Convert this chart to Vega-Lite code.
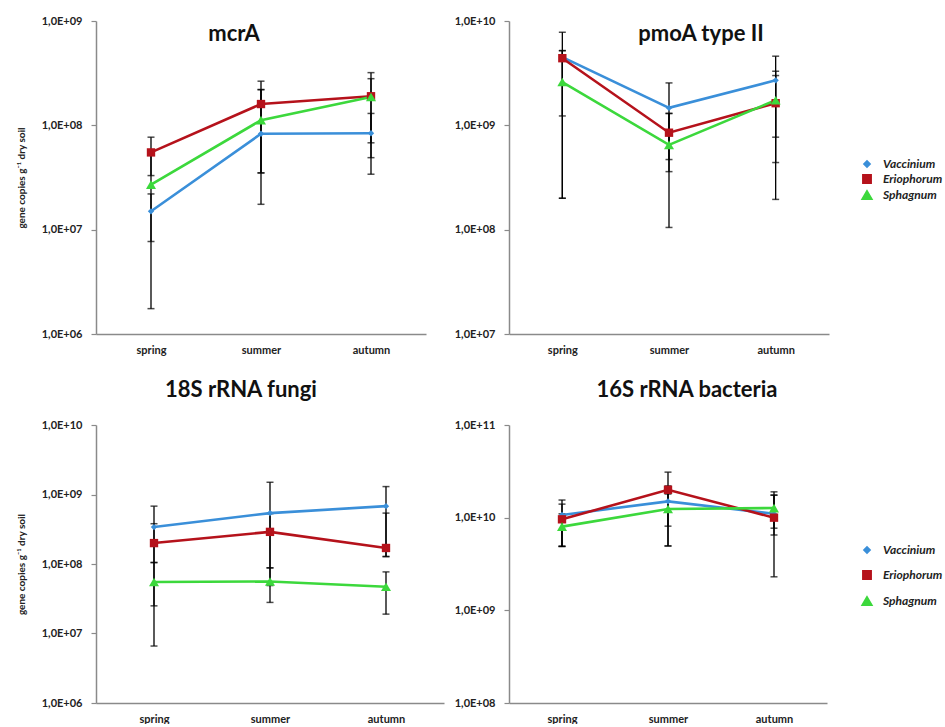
{
  "$schema": "https://vega.github.io/schema/vega-lite/v6.json",
  "padding": {"left": 16, "top": 15, "right": 0, "bottom": 0},
  "background": "white",
  "datasets": {
    "d": [
      {"gene": "mcrA", "season": "spring", "species": "Vaccinium", "value": 1.5e7, "lo": 7.7e6, "hi": 2.2e7},
      {"gene": "mcrA", "season": "spring", "species": "Eriophorum", "value": 5.5e7, "lo": 3.3e7, "hi": 7.7e7},
      {"gene": "mcrA", "season": "spring", "species": "Sphagnum", "value": 2.7e7, "lo": 1.75e6, "hi": 5.2e7},
      {"gene": "mcrA", "season": "summer", "species": "Vaccinium", "value": 8.3e7, "lo": 3.5e7, "hi": 2.2e8},
      {"gene": "mcrA", "season": "summer", "species": "Eriophorum", "value": 1.6e8, "lo": 1.75e7, "hi": 2.65e8},
      {"gene": "mcrA", "season": "summer", "species": "Sphagnum", "value": 1.12e8, "lo": 3.5e7, "hi": 2.2e8},
      {"gene": "mcrA", "season": "autumn", "species": "Vaccinium", "value": 8.4e7, "lo": 3.4e7, "hi": 1.3e8},
      {"gene": "mcrA", "season": "autumn", "species": "Eriophorum", "value": 1.9e8, "lo": 6.8e7, "hi": 3.2e8},
      {"gene": "mcrA", "season": "autumn", "species": "Sphagnum", "value": 1.87e8, "lo": 4.9e7, "hi": 2.8e8},
      {"gene": "pmoA", "season": "spring", "species": "Vaccinium", "value": 4.5e9, "lo": 1.23e9, "hi": 7.8e9},
      {"gene": "pmoA", "season": "spring", "species": "Eriophorum", "value": 4.4e9, "lo": 2.0e8, "hi": 5.2e9},
      {"gene": "pmoA", "season": "spring", "species": "Sphagnum", "value": 2.6e9, "lo": 2.0e8, "hi": 5.2e9},
      {"gene": "pmoA", "season": "summer", "species": "Vaccinium", "value": 1.47e9, "lo": 3.6e8, "hi": 2.55e9},
      {"gene": "pmoA", "season": "summer", "species": "Eriophorum", "value": 8.5e8, "lo": 1.05e8, "hi": 1.3e9},
      {"gene": "pmoA", "season": "summer", "species": "Sphagnum", "value": 6.5e8, "lo": 4.7e8, "hi": 1.3e9},
      {"gene": "pmoA", "season": "autumn", "species": "Vaccinium", "value": 2.7e9, "lo": 7.7e8, "hi": 4.6e9},
      {"gene": "pmoA", "season": "autumn", "species": "Eriophorum", "value": 1.63e9, "lo": 1.95e8, "hi": 3.0e9},
      {"gene": "pmoA", "season": "autumn", "species": "Sphagnum", "value": 1.74e9, "lo": 4.4e8, "hi": 3.3e9},
      {"gene": "fungi", "season": "spring", "species": "Vaccinium", "value": 3.4e8, "lo": 1.05e8, "hi": 6.8e8},
      {"gene": "fungi", "season": "spring", "species": "Eriophorum", "value": 2.0e8, "lo": 2.5e7, "hi": 3.8e8},
      {"gene": "fungi", "season": "spring", "species": "Sphagnum", "value": 5.5e7, "lo": 6.6e6, "hi": 1.05e8},
      {"gene": "fungi", "season": "summer", "species": "Vaccinium", "value": 5.4e8, "lo": 8.8e7, "hi": 1.5e9},
      {"gene": "fungi", "season": "summer", "species": "Eriophorum", "value": 2.9e8, "lo": 4.9e7, "hi": 5.3e8},
      {"gene": "fungi", "season": "summer", "species": "Sphagnum", "value": 5.6e7, "lo": 2.8e7, "hi": 8.8e7},
      {"gene": "fungi", "season": "autumn", "species": "Vaccinium", "value": 6.8e8, "lo": 1.28e8, "hi": 1.3e9},
      {"gene": "fungi", "season": "autumn", "species": "Eriophorum", "value": 1.7e8, "lo": 1.28e8, "hi": 5.4e8},
      {"gene": "fungi", "season": "autumn", "species": "Sphagnum", "value": 4.7e7, "lo": 1.9e7, "hi": 7.7e7},
      {"gene": "bacteria", "season": "spring", "species": "Vaccinium", "value": 1.07e10, "lo": 4.9e9, "hi": 1.55e10},
      {"gene": "bacteria", "season": "spring", "species": "Eriophorum", "value": 9.6e9, "lo": 4.9e9, "hi": 1.4e10},
      {"gene": "bacteria", "season": "spring", "species": "Sphagnum", "value": 8.0e9, "lo": 4.9e9, "hi": 1.1e10},
      {"gene": "bacteria", "season": "summer", "species": "Vaccinium", "value": 1.5e10, "lo": 4.95e9, "hi": 2.2e10},
      {"gene": "bacteria", "season": "summer", "species": "Eriophorum", "value": 2.0e10, "lo": 8.1e9, "hi": 3.1e10},
      {"gene": "bacteria", "season": "summer", "species": "Sphagnum", "value": 1.24e10, "lo": 4.95e9, "hi": 1.8e10},
      {"gene": "bacteria", "season": "autumn", "species": "Vaccinium", "value": 1.1e10, "lo": 6.5e9, "hi": 1.75e10},
      {"gene": "bacteria", "season": "autumn", "species": "Eriophorum", "value": 1.0e10, "lo": 2.3e9, "hi": 1.9e10},
      {"gene": "bacteria", "season": "autumn", "species": "Sphagnum", "value": 1.27e10, "lo": 7.7e9, "hi": 1.75e10}
    ]
  },
  "vconcat": [
    {
      "hconcat": [
        {
          "width": 330, "height": 313,
          "data": {"name": "d"},
          "transform": [{"filter": "datum.gene === 'mcrA'"}],
          "title": {"text": "mcrA", "offset": -48, "dx": -27, "frame": "group", "baseline": "alphabetic"},
          "layer": [
            {"mark": {"type": "rule", "color": "black", "strokeWidth": 1.3},
             "encoding": {
               "x": {"field": "season", "type": "nominal", "sort": ["spring", "summer", "autumn"], "scale": {"type": "point", "padding": 0.5}, "axis": {"title": null, "labelAngle": 0, "ticks": false, "labelPadding": 10}},
               "y": {"field": "lo", "type": "quantitative", "scale": {"type": "log", "domain": [1e6, 1e9], "nice": false}, "axis": {"values": [1e6, 1e7, 1e8, 1e9], "labelExpr": "'1,0E+' + (round(log(datum.value)/LN10) < 10 ? '0' : '') + round(log(datum.value)/LN10)", "title": "gene copies g⁻¹ dry soil", "minExtent": 50, "maxExtent": 50, "titlePadding": 20}},
               "y2": {"field": "hi"}}},
            {"mark": {"type": "tick", "color": "black", "thickness": 1.5, "size": 7},
             "encoding": {
               "x": {"field": "season", "type": "nominal", "sort": ["spring", "summer", "autumn"], "scale": {"type": "point", "padding": 0.5}, "axis": {"title": null, "labelAngle": 0, "ticks": false, "labelPadding": 10}},
               "y": {"field": "lo", "type": "quantitative", "scale": {"type": "log", "domain": [1e6, 1e9], "nice": false}, "axis": {"values": [1e6, 1e7, 1e8, 1e9], "labelExpr": "'1,0E+' + (round(log(datum.value)/LN10) < 10 ? '0' : '') + round(log(datum.value)/LN10)", "title": "gene copies g⁻¹ dry soil", "minExtent": 50, "maxExtent": 50, "titlePadding": 20}}}},
            {"mark": {"type": "tick", "color": "black", "thickness": 1.5, "size": 7},
             "encoding": {
               "x": {"field": "season", "type": "nominal", "sort": ["spring", "summer", "autumn"], "scale": {"type": "point", "padding": 0.5}, "axis": {"title": null, "labelAngle": 0, "ticks": false, "labelPadding": 10}},
               "y": {"field": "hi", "type": "quantitative", "scale": {"type": "log", "domain": [1e6, 1e9], "nice": false}, "axis": {"values": [1e6, 1e7, 1e8, 1e9], "labelExpr": "'1,0E+' + (round(log(datum.value)/LN10) < 10 ? '0' : '') + round(log(datum.value)/LN10)", "title": "gene copies g⁻¹ dry soil", "minExtent": 50, "maxExtent": 50, "titlePadding": 20}}}},
            {"mark": {"type": "line", "strokeWidth": 2.6},
             "encoding": {
               "x": {"field": "season", "type": "nominal", "sort": ["spring", "summer", "autumn"], "scale": {"type": "point", "padding": 0.5}, "axis": {"title": null, "labelAngle": 0, "ticks": false, "labelPadding": 10}},
               "y": {"field": "value", "type": "quantitative", "scale": {"type": "log", "domain": [1e6, 1e9], "nice": false}, "axis": {"values": [1e6, 1e7, 1e8, 1e9], "labelExpr": "'1,0E+' + (round(log(datum.value)/LN10) < 10 ? '0' : '') + round(log(datum.value)/LN10)", "title": "gene copies g⁻¹ dry soil", "minExtent": 50, "maxExtent": 50, "titlePadding": 20}},
               "color": {"field": "species", "type": "nominal", "scale": {"domain": ["Vaccinium", "Eriophorum", "Sphagnum"], "range": ["#3A8FD9", "#B5121B", "#3CD83C"]}, "legend": null}}},
            {"mark": {"type": "point", "filled": true, "opacity": 1},
             "encoding": {
               "x": {"field": "season", "type": "nominal", "sort": ["spring", "summer", "autumn"], "scale": {"type": "point", "padding": 0.5}, "axis": {"title": null, "labelAngle": 0, "ticks": false, "labelPadding": 10}},
               "y": {"field": "value", "type": "quantitative", "scale": {"type": "log", "domain": [1e6, 1e9], "nice": false}, "axis": {"values": [1e6, 1e7, 1e8, 1e9], "labelExpr": "'1,0E+' + (round(log(datum.value)/LN10) < 10 ? '0' : '') + round(log(datum.value)/LN10)", "title": "gene copies g⁻¹ dry soil", "minExtent": 50, "maxExtent": 50, "titlePadding": 20}},
               "color": {"field": "species", "type": "nominal", "scale": {"domain": ["Vaccinium", "Eriophorum", "Sphagnum"], "range": ["#3A8FD9", "#B5121B", "#3CD83C"]}, "legend": null},
               "shape": {"field": "species", "type": "nominal", "scale": {"domain": ["Vaccinium", "Eriophorum", "Sphagnum"], "range": ["diamond", "square", "triangle-up"]}, "legend": null},
               "size": {"field": "species", "type": "nominal", "scale": {"domain": ["Vaccinium", "Eriophorum", "Sphagnum"], "range": [40, 100, 60]}, "legend": null}}}
          ]
        },
        {
          "width": 320, "height": 313,
          "data": {"name": "d"},
          "transform": [{"filter": "datum.gene === 'pmoA'"}],
          "title": {"text": "pmoA type II", "offset": -48, "dx": 32, "frame": "group", "baseline": "alphabetic"},
          "layer": [
            {"mark": {"type": "rule", "color": "black", "strokeWidth": 1.3},
             "encoding": {
               "x": {"field": "season", "type": "nominal", "sort": ["spring", "summer", "autumn"], "scale": {"type": "point", "padding": 0.5}, "axis": {"title": null, "labelAngle": 0, "ticks": false, "labelPadding": 10}},
               "y": {"field": "lo", "type": "quantitative", "scale": {"type": "log", "domain": [1e7, 1e10], "nice": false}, "axis": {"values": [1e7, 1e8, 1e9, 1e10], "labelExpr": "'1,0E+' + (round(log(datum.value)/LN10) < 10 ? '0' : '') + round(log(datum.value)/LN10)", "title": null, "minExtent": 53, "maxExtent": 53}},
               "y2": {"field": "hi"}}},
            {"mark": {"type": "tick", "color": "black", "thickness": 1.5, "size": 7},
             "encoding": {
               "x": {"field": "season", "type": "nominal", "sort": ["spring", "summer", "autumn"], "scale": {"type": "point", "padding": 0.5}, "axis": {"title": null, "labelAngle": 0, "ticks": false, "labelPadding": 10}},
               "y": {"field": "lo", "type": "quantitative", "scale": {"type": "log", "domain": [1e7, 1e10], "nice": false}, "axis": {"values": [1e7, 1e8, 1e9, 1e10], "labelExpr": "'1,0E+' + (round(log(datum.value)/LN10) < 10 ? '0' : '') + round(log(datum.value)/LN10)", "title": null, "minExtent": 53, "maxExtent": 53}}}},
            {"mark": {"type": "tick", "color": "black", "thickness": 1.5, "size": 7},
             "encoding": {
               "x": {"field": "season", "type": "nominal", "sort": ["spring", "summer", "autumn"], "scale": {"type": "point", "padding": 0.5}, "axis": {"title": null, "labelAngle": 0, "ticks": false, "labelPadding": 10}},
               "y": {"field": "hi", "type": "quantitative", "scale": {"type": "log", "domain": [1e7, 1e10], "nice": false}, "axis": {"values": [1e7, 1e8, 1e9, 1e10], "labelExpr": "'1,0E+' + (round(log(datum.value)/LN10) < 10 ? '0' : '') + round(log(datum.value)/LN10)", "title": null, "minExtent": 53, "maxExtent": 53}}}},
            {"mark": {"type": "line", "strokeWidth": 2.6},
             "encoding": {
               "x": {"field": "season", "type": "nominal", "sort": ["spring", "summer", "autumn"], "scale": {"type": "point", "padding": 0.5}, "axis": {"title": null, "labelAngle": 0, "ticks": false, "labelPadding": 10}},
               "y": {"field": "value", "type": "quantitative", "scale": {"type": "log", "domain": [1e7, 1e10], "nice": false}, "axis": {"values": [1e7, 1e8, 1e9, 1e10], "labelExpr": "'1,0E+' + (round(log(datum.value)/LN10) < 10 ? '0' : '') + round(log(datum.value)/LN10)", "title": null, "minExtent": 53, "maxExtent": 53}},
               "color": {"field": "species", "type": "nominal", "scale": {"domain": ["Vaccinium", "Eriophorum", "Sphagnum"], "range": ["#3A8FD9", "#B5121B", "#3CD83C"]}, "legend": {"orient": "none", "legendX": 352, "legendY": 137, "title": null, "rowPadding": 0, "labelOffset": 10, "symbolSize": 60}}}},
            {"mark": {"type": "point", "filled": true, "opacity": 1},
             "encoding": {
               "x": {"field": "season", "type": "nominal", "sort": ["spring", "summer", "autumn"], "scale": {"type": "point", "padding": 0.5}, "axis": {"title": null, "labelAngle": 0, "ticks": false, "labelPadding": 10}},
               "y": {"field": "value", "type": "quantitative", "scale": {"type": "log", "domain": [1e7, 1e10], "nice": false}, "axis": {"values": [1e7, 1e8, 1e9, 1e10], "labelExpr": "'1,0E+' + (round(log(datum.value)/LN10) < 10 ? '0' : '') + round(log(datum.value)/LN10)", "title": null, "minExtent": 53, "maxExtent": 53}},
               "color": {"field": "species", "type": "nominal", "scale": {"domain": ["Vaccinium", "Eriophorum", "Sphagnum"], "range": ["#3A8FD9", "#B5121B", "#3CD83C"]}, "legend": {"orient": "none", "legendX": 352, "legendY": 137, "title": null, "rowPadding": 0, "labelOffset": 10, "symbolSize": 60}},
               "shape": {"field": "species", "type": "nominal", "scale": {"domain": ["Vaccinium", "Eriophorum", "Sphagnum"], "range": ["diamond", "square", "triangle-up"]}, "legend": {"orient": "none", "legendX": 352, "legendY": 137, "title": null, "rowPadding": 0, "labelOffset": 10, "symbolSize": 60}},
               "size": {"field": "species", "type": "nominal", "scale": {"domain": ["Vaccinium", "Eriophorum", "Sphagnum"], "range": [40, 100, 60]}, "legend": null}}}
          ]
        }
      ],
      "spacing": 28,
      "resolve": {"scale": {"x": "independent", "y": "independent", "color": "independent", "shape": "independent", "size": "independent"}, "legend": {"color": "independent", "shape": "independent"}}
    },
    {
      "hconcat": [
        {
          "width": 348, "height": 278,
          "data": {"name": "d"},
          "transform": [{"filter": "datum.gene === 'fungi'"}],
          "title": {"text": "18S rRNA fungi", "offset": 0, "dx": -29, "frame": "group", "baseline": "alphabetic"},
          "layer": [
            {"mark": {"type": "rule", "color": "black", "strokeWidth": 1.3},
             "encoding": {
               "x": {"field": "season", "type": "nominal", "sort": ["spring", "summer", "autumn"], "scale": {"type": "point", "padding": 0.5}, "axis": {"title": null, "labelAngle": 0, "ticks": false, "labelPadding": 10}},
               "y": {"field": "lo", "type": "quantitative", "scale": {"type": "log", "domain": [1e6, 1e10], "nice": false}, "axis": {"values": [1e6, 1e7, 1e8, 1e9, 1e10], "labelExpr": "'1,0E+' + (round(log(datum.value)/LN10) < 10 ? '0' : '') + round(log(datum.value)/LN10)", "title": "gene copies g⁻¹ dry soil", "minExtent": 50, "maxExtent": 50, "titlePadding": 20}},
               "y2": {"field": "hi"}}},
            {"mark": {"type": "tick", "color": "black", "thickness": 1.5, "size": 7},
             "encoding": {
               "x": {"field": "season", "type": "nominal", "sort": ["spring", "summer", "autumn"], "scale": {"type": "point", "padding": 0.5}, "axis": {"title": null, "labelAngle": 0, "ticks": false, "labelPadding": 10}},
               "y": {"field": "lo", "type": "quantitative", "scale": {"type": "log", "domain": [1e6, 1e10], "nice": false}, "axis": {"values": [1e6, 1e7, 1e8, 1e9, 1e10], "labelExpr": "'1,0E+' + (round(log(datum.value)/LN10) < 10 ? '0' : '') + round(log(datum.value)/LN10)", "title": "gene copies g⁻¹ dry soil", "minExtent": 50, "maxExtent": 50, "titlePadding": 20}}}},
            {"mark": {"type": "tick", "color": "black", "thickness": 1.5, "size": 7},
             "encoding": {
               "x": {"field": "season", "type": "nominal", "sort": ["spring", "summer", "autumn"], "scale": {"type": "point", "padding": 0.5}, "axis": {"title": null, "labelAngle": 0, "ticks": false, "labelPadding": 10}},
               "y": {"field": "hi", "type": "quantitative", "scale": {"type": "log", "domain": [1e6, 1e10], "nice": false}, "axis": {"values": [1e6, 1e7, 1e8, 1e9, 1e10], "labelExpr": "'1,0E+' + (round(log(datum.value)/LN10) < 10 ? '0' : '') + round(log(datum.value)/LN10)", "title": "gene copies g⁻¹ dry soil", "minExtent": 50, "maxExtent": 50, "titlePadding": 20}}}},
            {"mark": {"type": "line", "strokeWidth": 2.6},
             "encoding": {
               "x": {"field": "season", "type": "nominal", "sort": ["spring", "summer", "autumn"], "scale": {"type": "point", "padding": 0.5}, "axis": {"title": null, "labelAngle": 0, "ticks": false, "labelPadding": 10}},
               "y": {"field": "value", "type": "quantitative", "scale": {"type": "log", "domain": [1e6, 1e10], "nice": false}, "axis": {"values": [1e6, 1e7, 1e8, 1e9, 1e10], "labelExpr": "'1,0E+' + (round(log(datum.value)/LN10) < 10 ? '0' : '') + round(log(datum.value)/LN10)", "title": "gene copies g⁻¹ dry soil", "minExtent": 50, "maxExtent": 50, "titlePadding": 20}},
               "color": {"field": "species", "type": "nominal", "scale": {"domain": ["Vaccinium", "Eriophorum", "Sphagnum"], "range": ["#3A8FD9", "#B5121B", "#3CD83C"]}, "legend": null}}},
            {"mark": {"type": "point", "filled": true, "opacity": 1},
             "encoding": {
               "x": {"field": "season", "type": "nominal", "sort": ["spring", "summer", "autumn"], "scale": {"type": "point", "padding": 0.5}, "axis": {"title": null, "labelAngle": 0, "ticks": false, "labelPadding": 10}},
               "y": {"field": "value", "type": "quantitative", "scale": {"type": "log", "domain": [1e6, 1e10], "nice": false}, "axis": {"values": [1e6, 1e7, 1e8, 1e9, 1e10], "labelExpr": "'1,0E+' + (round(log(datum.value)/LN10) < 10 ? '0' : '') + round(log(datum.value)/LN10)", "title": "gene copies g⁻¹ dry soil", "minExtent": 50, "maxExtent": 50, "titlePadding": 20}},
               "color": {"field": "species", "type": "nominal", "scale": {"domain": ["Vaccinium", "Eriophorum", "Sphagnum"], "range": ["#3A8FD9", "#B5121B", "#3CD83C"]}, "legend": null},
               "shape": {"field": "species", "type": "nominal", "scale": {"domain": ["Vaccinium", "Eriophorum", "Sphagnum"], "range": ["diamond", "square", "triangle-up"]}, "legend": null},
               "size": {"field": "species", "type": "nominal", "scale": {"domain": ["Vaccinium", "Eriophorum", "Sphagnum"], "range": [40, 100, 60]}, "legend": null}}}
          ]
        },
        {
          "width": 318, "height": 278,
          "data": {"name": "d"},
          "transform": [{"filter": "datum.gene === 'bacteria'"}],
          "title": {"text": "16S rRNA bacteria", "offset": 0, "dx": 19, "frame": "group", "baseline": "alphabetic"},
          "layer": [
            {"mark": {"type": "rule", "color": "black", "strokeWidth": 1.3},
             "encoding": {
               "x": {"field": "season", "type": "nominal", "sort": ["spring", "summer", "autumn"], "scale": {"type": "point", "padding": 0.5}, "axis": {"title": null, "labelAngle": 0, "ticks": false, "labelPadding": 10}},
               "y": {"field": "lo", "type": "quantitative", "scale": {"type": "log", "domain": [1e8, 1e11], "nice": false}, "axis": {"values": [1e8, 1e9, 1e10, 1e11], "labelExpr": "'1,0E+' + (round(log(datum.value)/LN10) < 10 ? '0' : '') + round(log(datum.value)/LN10)", "title": null, "minExtent": 53, "maxExtent": 53}},
               "y2": {"field": "hi"}}},
            {"mark": {"type": "tick", "color": "black", "thickness": 1.5, "size": 7},
             "encoding": {
               "x": {"field": "season", "type": "nominal", "sort": ["spring", "summer", "autumn"], "scale": {"type": "point", "padding": 0.5}, "axis": {"title": null, "labelAngle": 0, "ticks": false, "labelPadding": 10}},
               "y": {"field": "lo", "type": "quantitative", "scale": {"type": "log", "domain": [1e8, 1e11], "nice": false}, "axis": {"values": [1e8, 1e9, 1e10, 1e11], "labelExpr": "'1,0E+' + (round(log(datum.value)/LN10) < 10 ? '0' : '') + round(log(datum.value)/LN10)", "title": null, "minExtent": 53, "maxExtent": 53}}}},
            {"mark": {"type": "tick", "color": "black", "thickness": 1.5, "size": 7},
             "encoding": {
               "x": {"field": "season", "type": "nominal", "sort": ["spring", "summer", "autumn"], "scale": {"type": "point", "padding": 0.5}, "axis": {"title": null, "labelAngle": 0, "ticks": false, "labelPadding": 10}},
               "y": {"field": "hi", "type": "quantitative", "scale": {"type": "log", "domain": [1e8, 1e11], "nice": false}, "axis": {"values": [1e8, 1e9, 1e10, 1e11], "labelExpr": "'1,0E+' + (round(log(datum.value)/LN10) < 10 ? '0' : '') + round(log(datum.value)/LN10)", "title": null, "minExtent": 53, "maxExtent": 53}}}},
            {"mark": {"type": "line", "strokeWidth": 2.6},
             "encoding": {
               "x": {"field": "season", "type": "nominal", "sort": ["spring", "summer", "autumn"], "scale": {"type": "point", "padding": 0.5}, "axis": {"title": null, "labelAngle": 0, "ticks": false, "labelPadding": 10}},
               "y": {"field": "value", "type": "quantitative", "scale": {"type": "log", "domain": [1e8, 1e11], "nice": false}, "axis": {"values": [1e8, 1e9, 1e10, 1e11], "labelExpr": "'1,0E+' + (round(log(datum.value)/LN10) < 10 ? '0' : '') + round(log(datum.value)/LN10)", "title": null, "minExtent": 53, "maxExtent": 53}},
               "color": {"field": "species", "type": "nominal", "scale": {"domain": ["Vaccinium", "Eriophorum", "Sphagnum"], "range": ["#3A8FD9", "#B5121B", "#3CD83C"]}, "legend": {"orient": "none", "legendX": 352, "legendY": 119, "title": null, "rowPadding": 10, "labelOffset": 10, "symbolSize": 60}}}},
            {"mark": {"type": "point", "filled": true, "opacity": 1},
             "encoding": {
               "x": {"field": "season", "type": "nominal", "sort": ["spring", "summer", "autumn"], "scale": {"type": "point", "padding": 0.5}, "axis": {"title": null, "labelAngle": 0, "ticks": false, "labelPadding": 10}},
               "y": {"field": "value", "type": "quantitative", "scale": {"type": "log", "domain": [1e8, 1e11], "nice": false}, "axis": {"values": [1e8, 1e9, 1e10, 1e11], "labelExpr": "'1,0E+' + (round(log(datum.value)/LN10) < 10 ? '0' : '') + round(log(datum.value)/LN10)", "title": null, "minExtent": 53, "maxExtent": 53}},
               "color": {"field": "species", "type": "nominal", "scale": {"domain": ["Vaccinium", "Eriophorum", "Sphagnum"], "range": ["#3A8FD9", "#B5121B", "#3CD83C"]}, "legend": {"orient": "none", "legendX": 352, "legendY": 119, "title": null, "rowPadding": 10, "labelOffset": 10, "symbolSize": 60}},
               "shape": {"field": "species", "type": "nominal", "scale": {"domain": ["Vaccinium", "Eriophorum", "Sphagnum"], "range": ["diamond", "square", "triangle-up"]}, "legend": {"orient": "none", "legendX": 352, "legendY": 119, "title": null, "rowPadding": 10, "labelOffset": 10, "symbolSize": 60}},
               "size": {"field": "species", "type": "nominal", "scale": {"domain": ["Vaccinium", "Eriophorum", "Sphagnum"], "range": [40, 100, 60]}, "legend": null}}}
          ]
        }
      ],
      "spacing": 10,
      "resolve": {"scale": {"x": "independent", "y": "independent", "color": "independent", "shape": "independent", "size": "independent"}, "legend": {"color": "independent", "shape": "independent"}}
    }
  ],
  "spacing": 24,
  "resolve": {"scale": {"x": "independent", "y": "independent", "color": "independent", "shape": "independent", "size": "independent"}, "legend": {"color": "independent", "shape": "independent"}},
  "config": {
    "view": {"stroke": null},
    "font": "Lato",
    "axis": {"grid": false, "domainColor": "#8a8a8a", "domainWidth": 1.5, "tickColor": "#8a8a8a", "tickSize": 5, "tickWidth": 1.2, "labelFont": "Lato", "labelFontWeight": "bold", "labelFontSize": 11, "labelColor": "#222", "labelPadding": 9, "titleFont": "Lato", "titleFontWeight": "bold", "titleFontSize": 10, "titleColor": "#222"},
    "title": {"font": "Lato", "fontSize": 22, "fontWeight": "bold", "color": "#111", "anchor": "middle"},
    "legend": {"labelFont": "Lato", "labelFontStyle": "italic", "labelFontWeight": "bold", "labelFontSize": 12, "labelColor": "#222"}
  }
}
